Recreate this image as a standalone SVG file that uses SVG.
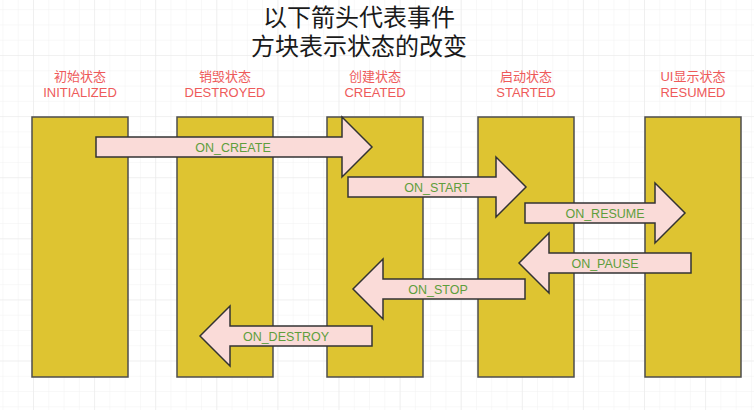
<svg xmlns="http://www.w3.org/2000/svg" width="754" height="410" viewBox="0 0 754 410">
  <defs>
    <pattern id="minor" patternUnits="userSpaceOnUse" x="2.45" y="9.2" width="15.275" height="15.275">
      <path d="M0 0H15.275M0 0V15.275" fill="none" stroke="#f1f1f1" stroke-width="1"/>
    </pattern>
    <pattern id="major" patternUnits="userSpaceOnUse" x="33" y="55" width="61.1" height="61.1">
      <path d="M0 0H61.1M0 0V61.1" fill="none" stroke="#e9e9e9" stroke-width="1.2"/>
    </pattern>
  </defs>
  <style>
    .state{fill:#DEC431;stroke:#4d4d4d;stroke-width:1.5}
    .lbl{font-family:"Liberation Sans","Noto Sans CJK SC",sans-serif;font-size:13px;fill:#EE5A5A;text-anchor:middle}
    .title{font-family:"Liberation Sans","Noto Sans CJK SC",sans-serif;font-size:24px;fill:#1a1a1a;text-anchor:middle}
    .evt{fill:#FADBD8;stroke:#333333;stroke-width:1.5;stroke-linejoin:miter}
    .evtxt{font-family:"Liberation Sans","Noto Sans CJK SC",sans-serif;font-size:12.5px;fill:#5E9E3C;text-anchor:middle}
  </style>
  <rect width="754" height="410" fill="#ffffff"/>
  <rect width="754" height="410" fill="url(#minor)"/>
  <rect width="754" height="410" fill="url(#major)"/>

  <g id="title">
    <text class="title" x="359" y="26">以下箭头代表事件</text>
    <text class="title" x="359" y="55">方块表示状态的改变</text>
  </g>

  <g id="initialized">
    <text class="lbl" x="80" y="81">初始状态</text>
    <text class="lbl" x="80" y="97">INITIALIZED</text>
    <rect class="state" x="32" y="117" width="96" height="260"/>
  </g>
  <g id="destroyed">
    <text class="lbl" x="225" y="81">销毁状态</text>
    <text class="lbl" x="225" y="97">DESTROYED</text>
    <rect class="state" x="177" y="117" width="96" height="260"/>
  </g>
  <g id="created">
    <text class="lbl" x="375" y="81">创建状态</text>
    <text class="lbl" x="375" y="97">CREATED</text>
    <rect class="state" x="327" y="117" width="96" height="260"/>
  </g>
  <g id="started">
    <text class="lbl" x="526" y="81">启动状态</text>
    <text class="lbl" x="526" y="97">STARTED</text>
    <rect class="state" x="478" y="117" width="96" height="260"/>
  </g>
  <g id="resumed">
    <text class="lbl" x="693" y="81">UI显示状态</text>
    <text class="lbl" x="693" y="97">RESUMED</text>
    <rect class="state" x="645" y="117" width="96" height="260"/>
  </g>

  <g id="connectors">
    <g id="on_create">
      <polygon class="evt" points="96,137 342,137 342,117 372,147 342,177 342,157 96,157"/>
      <text class="evtxt" x="233" y="151.5">ON_CREATE</text>
    </g>
    <g id="on_start">
      <polygon class="evt" points="348,177 496,177 496,157 526,187 496,217 496,197 348,197"/>
      <text class="evtxt" x="437" y="191.5">ON_START</text>
    </g>
    <g id="on_resume">
      <polygon class="evt" points="525,203 655,203 655,183 685,213 655,243 655,223 525,223"/>
      <text class="evtxt" x="605" y="217.5">ON_RESUME</text>
    </g>
    <g id="on_pause">
      <polygon class="evt" points="691,253 549,253 549,233 519,263 549,293 549,273 691,273"/>
      <text class="evtxt" x="605" y="267.5">ON_PAUSE</text>
    </g>
    <g id="on_stop">
      <polygon class="evt" points="525,279 383,279 383,259 353,289 383,319 383,299 525,299"/>
      <text class="evtxt" x="438" y="293.5">ON_STOP</text>
    </g>
    <g id="on_destroy">
      <polygon class="evt" points="372,326 230,326 230,306 200,336 230,366 230,346 372,346"/>
      <text class="evtxt" x="286" y="340.5">ON_DESTROY</text>
    </g>
  </g>
</svg>
